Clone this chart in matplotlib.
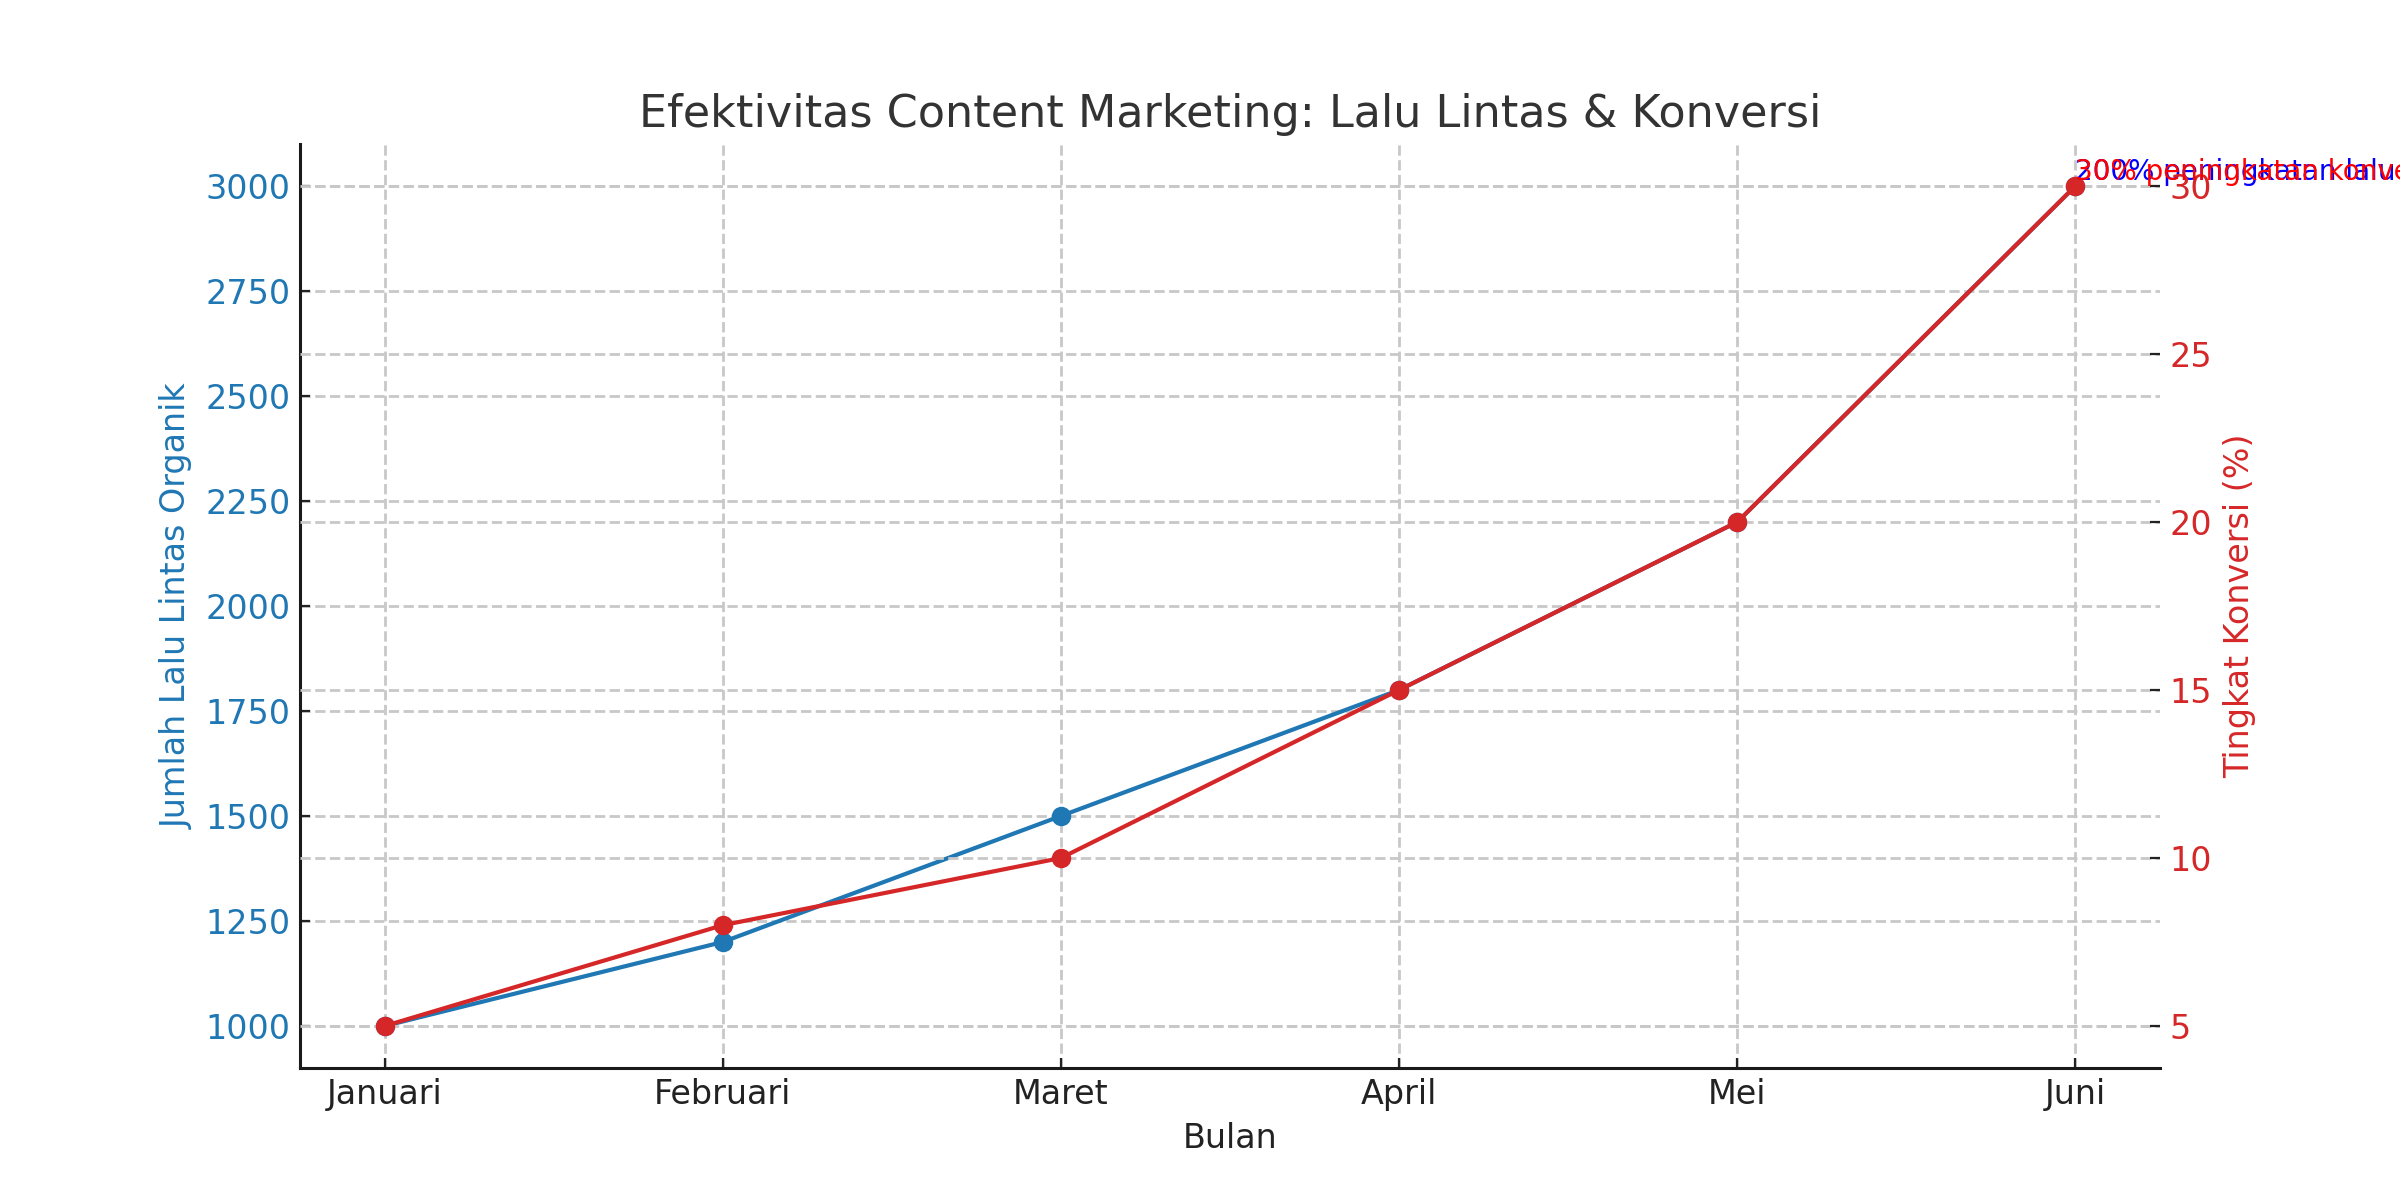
import matplotlib
matplotlib.use("Agg")
import matplotlib.pyplot as plt

months = ["Januari", "Februari", "Maret", "April", "Mei", "Juni"]
traffic = [1000, 1200, 1500, 1800, 2200, 3000]
conversion = [5, 8, 10, 15, 20, 30]
note_traffic = "200% peningkatan lalu lintas"
note_conv = "30% peningkatan konversi"

plt.rcParams['font.family'] = ['DejaVu Sans']
plt.rcParams['font.size'] = 12
plt.rcParams['text.color'] = '#333333'

fig, ax1 = plt.subplots(figsize=(12, 6), dpi=200)
x = list(range(len(months)))

c1 = 'tab:blue'
c2 = 'tab:red'

ax1.plot(x, traffic, color=c1, marker='o', lw=1.5, ms=6)
ax1.set_xlabel("Bulan", fontsize=12, color='#222222')
ax1.set_ylabel("Jumlah Lalu Lintas Organik", color=c1, fontsize=12)
ax1.tick_params(axis='y', labelcolor=c1, labelsize=12, color='#222222', direction='in')
ax1.tick_params(axis='x', labelcolor='#222222', labelsize=12, color='#222222', direction='in')
ax1.set_xticks(x)
ax1.set_xticklabels(months)
ax1.grid(True, linestyle='--', color='#c8c8c8', lw=1)
for s in ['top', 'right']:
    ax1.spines[s].set_visible(False)
for s in ['left', 'bottom']:
    ax1.spines[s].set_linewidth(1.1)
    ax1.spines[s].set_color('#1a1a1a')

ax2 = ax1.twinx()
ax2.plot(x, conversion, color=c2, marker='o', lw=1.5, ms=6)
ax2.set_ylabel("Tingkat Konversi (%)", color=c2, fontsize=12)
ax2.tick_params(axis='y', labelcolor=c2, labelsize=12, color='#222222', direction='in')
ax2.grid(True, linestyle='--', color='#c8c8c8', lw=1)
for s in ['top', 'right', 'left', 'bottom']:
    ax2.spines[s].set_visible(False)

ax1.text(x[-1], traffic[-1], note_traffic, color='blue', fontsize=10, ha='left', va='bottom')
ax2.text(x[-1], conversion[-1], note_conv, color='red', fontsize=10, ha='left', va='bottom')

ax1.set_title("Efektivitas Content Marketing: Lalu Lintas & Konversi", fontsize=16, color='#333333')

fig.savefig("out.png", dpi=200)
